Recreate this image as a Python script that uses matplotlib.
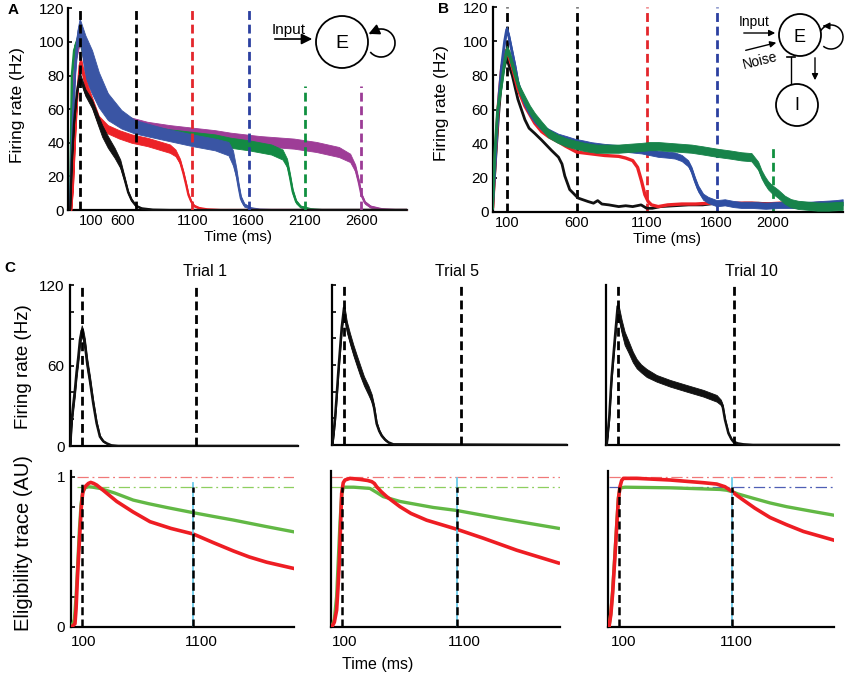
import numpy as np
import matplotlib
matplotlib.use("Agg")
import matplotlib.pyplot as plt
from matplotlib.patches import Circle, Arc

plt.rcParams['font.family'] = ['Liberation Sans', 'DejaVu Sans']

# ---------------- DATA ----------------
# Panel A (time ms, centre Hz, half band width Hz)
A_black_t = [15, 30, 50, 75, 100, 150, 210, 260, 300, 350, 410, 460, 500, 530, 560, 600, 650, 750, 900, 3000]
A_black_c = [0, 28, 52, 70, 80, 70, 63, 54, 47, 40.5, 34, 27.5, 18, 10.5, 6, 2.5, 1, 0.2, 0, 0]
A_black_w = [0.3, 1, 1, 1.5, 2, 2, 2.5, 3, 3.5, 3.5, 3, 2.5, 1.5, 1, 0.8, 0.5, 0.3, 0.3, 0.3, 0.3]

A_red_t = [25, 40, 60, 80, 100, 110, 150, 210, 270, 350, 450, 560, 700, 800, 900, 950, 990, 1020, 1045, 1065, 1090, 1115, 1160, 1230, 1350, 3000]
A_red_c = [0, 14, 45, 70, 86, 88, 75, 64, 53, 48, 45, 42.5, 40.5, 38.5, 36.5, 34, 29, 22, 15, 9, 5, 2.5, 1.2, 0.4, 0, 0]
A_red_w = [0.3, 1, 1.5, 2, 3, 3, 3, 3, 3, 2.5, 2.5, 2.5, 2.5, 2.5, 2.5, 2, 1.5, 1.2, 1, 0.8, 0.6, 0.5, 0.3, 0.3, 0.3, 0.3]

A_blue_t = [15, 25, 40, 60, 80, 100, 150, 210, 270, 350, 470, 590, 860, 1100, 1300, 1420, 1460, 1490, 1510, 1530, 1560, 1620, 1700, 1800, 3000]
A_blue_c = [0, 25, 55, 85, 102, 109, 91, 82, 71.5, 61.5, 54, 49.5, 45, 41.5, 39, 36.5, 31, 22, 14, 7, 3, 1, 0.2, 0, 0]
A_blue_w = [0.5, 3, 4, 5, 5, 5, 13, 13, 10.5, 8, 5.5, 4, 3.5, 3.5, 3.5, 4, 4.5, 3, 2, 1.5, 1, 0.5, 0.3, 0.3, 0.3]

A_green_t = [15, 22, 30, 50, 100, 150, 210, 300, 400, 500, 700, 900, 1100, 1300, 1440, 1600, 1800, 1900, 1940, 1965, 1990, 2020, 2060, 2150, 2250, 3000]
A_green_c = [0, 40, 80, 95, 104, 92, 82, 68, 58, 52, 47.5, 45, 43.5, 42, 40, 38.5, 36, 33, 28, 20, 11, 5, 2, 0.5, 0, 0]
A_green_w = [1, 2, 2, 3, 4, 8, 8, 6, 4, 3.5, 3, 3, 3, 3, 3, 3, 3, 3, 2.5, 2, 1.5, 1, 0.6, 0.3, 0.3, 0.3]

A_purple_t = [15, 30, 60, 100, 150, 210, 300, 400, 500, 700, 900, 1100, 1300, 1440, 1700, 2000, 2200, 2400, 2500, 2545, 2575, 2600, 2630, 2680, 2780, 2900, 3000]
A_purple_c = [0, 60, 90, 103, 92, 82, 69, 59, 53, 49.5, 47.5, 46, 44.5, 43, 41, 39.5, 37.5, 34.5, 31, 25, 17, 9, 4.5, 2, 0.5, 0, 0]
A_purple_w = [1, 2, 3, 4, 8, 8, 6, 4, 3, 3, 3, 3, 3, 3, 3, 3, 3, 3, 2.5, 2, 1.5, 1, 0.8, 0.6, 0.3, 0.3, 0.3]

A_xticks = [100, 600, 1100, 1600, 2100, 2600]
A_xtick_pos = [200, 485, 1100, 1600, 2100, 2600]
A_cues = [100, 600, 1100, 1600, 2100, 2600]
A_cue_top = [120, 120, 120, 120, 74, 74]

# Panel B
B_black_t = [0, 20, 40, 65, 100, 140, 180, 230, 260, 300, 350, 420, 470, 495, 515, 550, 610, 680, 720, 750, 780, 830, 900, 950, 1000, 1060, 1100, 1140, 1200, 1300, 1400, 1500, 1600, 1700, 1800, 1900, 2000, 2100, 2200, 2300, 2400, 2500]
B_black_c = [3, 30, 55, 80, 90, 80, 66, 54, 49, 46, 42, 36, 32, 28, 21, 13, 8, 6, 5, 6.5, 4.5, 4, 3, 3.5, 3, 4, 2, 2, 3, 3.5, 4, 4, 5, 4.5, 5, 5, 4.5, 4.5, 5, 4.5, 5, 5.5]

B_red_t = [0, 20, 40, 65, 100, 140, 180, 230, 300, 350, 400, 470, 520, 600, 700, 800, 900, 950, 1000, 1035, 1063, 1087, 1110, 1134, 1182, 1250, 1350, 1450, 1550, 1650, 1750, 1850, 1950, 2050, 2150, 2250, 2350, 2500]
B_red_c = [3, 35, 62, 85, 95, 85, 72, 62, 52, 47, 44, 41, 38.5, 35, 34, 33, 32.5, 31.5, 30, 26, 18, 10, 6, 4, 3, 4, 4.5, 4.5, 5, 4.5, 5, 5, 4.5, 5, 5, 4.5, 5, 5]

B_blue_t = [0, 15, 28, 45, 63, 85, 100, 115, 135, 160, 182, 205, 230, 265, 300, 340, 373, 420, 468, 530, 587, 650, 706, 800, 944, 1063, 1182, 1250, 1301, 1350, 1396, 1420, 1444, 1467, 1503, 1539, 1600, 1658, 1720, 1777, 1850, 1950, 2050, 2150, 2250, 2350, 2450, 2500]
B_blue_c = [5, 25, 46, 68, 85, 100, 107, 103, 95, 85, 75, 69, 63.5, 58, 54, 50.5, 48, 46, 44, 42.5, 41, 40, 39, 38, 37, 36, 34, 33.5, 33, 31.5, 28.4, 24.5, 18.6, 13.7, 8.8, 6.9, 5, 5.5, 4.5, 4, 4, 3.5, 4, 4, 4, 4.5, 5, 5.5]

B_green_t = [0, 16, 35, 63, 85, 100, 120, 158, 190, 230, 265, 301, 350, 397, 460, 516, 580, 658, 740, 825, 900, 980, 1063, 1120, 1182, 1260, 1340, 1420, 1500, 1610, 1700, 1777, 1848, 1896, 1920, 1943, 1967, 1991, 2039, 2086, 2130, 2182, 2250, 2320, 2400, 2500]
B_green_c = [4, 36, 60, 75, 88, 95, 92, 81, 72, 65.5, 60, 55.5, 50.5, 46, 43, 41, 39.5, 38, 37, 37, 37, 37.5, 38, 38.5, 38.5, 38, 37.5, 37, 36, 34.5, 33.5, 32.5, 32, 27, 22, 18.5, 15.5, 13.5, 10.5, 7, 5, 4, 3.5, 3, 3, 3.5]

B_xticks = [100, 600, 1100, 1600, 2000]
B_cues = [100, 600, 1100, 1600, 2000]
B_cue_top = [120, 120, 120, 120, 40]

# Panel C firing rates (time ms, centre Hz, half band width Hz)
C1_t = [0, 12, 25, 41, 55, 70, 85, 100, 115, 128, 149, 172, 201, 231, 260, 290, 319, 360, 420, 2000]
C1_c = [0, 19, 30, 42, 55, 66, 79, 86, 82, 76, 61, 49, 32, 17, 7, 3.5, 2, 0.5, 0, 0]
C1_w = [0.3, 3, 4, 4, 4, 4, 4, 4, 4, 4, 4, 3.5, 2.5, 1.5, 1, 0.5, 0.3, 0.3, 0.3, 0.3]

C5_t = [0, 10, 24, 38, 52, 66, 80, 100, 123, 150, 180, 210, 237, 270, 308, 336, 356, 378, 400, 421, 450, 478, 520, 2000]
C5_c = [0, 8, 21, 38, 56, 72, 88, 103, 89, 80, 71, 63, 56, 48, 41, 35, 28, 16, 10.5, 7, 4, 2, 0.5, 0]
C5_w = [0.3, 2, 3, 3, 3, 3, 3.5, 3.5, 4, 4, 4, 4, 4, 3.5, 3.5, 3, 2, 1.5, 1, 0.8, 0.6, 0.3, 0.3, 0.3]

C10_t = [0, 6, 28, 48, 77, 100, 115, 134, 160, 191, 230, 263, 300, 349, 434, 549, 692, 835, 949, 985, 1001, 1021, 1050, 1075, 1092, 1130, 1178, 1260, 2000]
C10_c = [0, 0, 21, 51, 81, 104, 97, 89, 80, 74, 66, 61, 57.5, 54, 50, 46.3, 42.5, 38.8, 35, 32, 28.8, 18.8, 8.8, 4.5, 2.5, 1.2, 0.5, 0, 0]
C10_w = [0.3, 0.3, 2, 3, 3.5, 4, 5, 5, 5, 4.5, 4, 3.5, 3, 3, 2.5, 2.5, 2.5, 2.5, 2.5, 2, 1.5, 1, 0.8, 0.6, 0.5, 0.3, 0.3, 0.3, 0.3]

# Panel C eligibility traces
E1r_t = [0, 11, 40, 50, 61, 73, 85, 97, 109, 124, 139, 160, 181, 208, 235, 300, 414, 560, 712, 900, 1099, 1280, 1458, 1600, 1756, 1995]
E1r_c = [0, 0, 0.02, 0.12, 0.31, 0.48, 0.64, 0.8, 0.89, 0.925, 0.94, 0.955, 0.962, 0.955, 0.944, 0.905, 0.835, 0.765, 0.70, 0.655, 0.618, 0.56, 0.505, 0.465, 0.43, 0.389]
E1g_t = [0, 11, 35, 50, 65, 80, 95, 110, 130, 159, 200, 264, 400, 562, 700, 860, 1099, 1280, 1458, 1600, 1756, 1995]
E1g_c = [0, 0, 0.05, 0.2, 0.42, 0.65, 0.82, 0.9, 0.925, 0.933, 0.93, 0.922, 0.89, 0.844, 0.82, 0.795, 0.76, 0.735, 0.711, 0.69, 0.667, 0.633]

E5r_t = [0, 9, 30, 50, 62, 74, 85, 94, 108, 123, 167, 254, 320, 357, 380, 400, 440, 488, 604, 700, 837, 1099, 1332, 1624, 1988]
E5r_c = [0, 0, 0.03, 0.11, 0.26, 0.44, 0.68, 0.889, 0.96, 0.978, 0.989, 0.982, 0.975, 0.967, 0.955, 0.933, 0.9, 0.867, 0.8, 0.755, 0.71, 0.65, 0.59, 0.51, 0.425]
E5g_t = [0, 9, 30, 50, 65, 80, 95, 108, 200, 341, 400, 458, 604, 894, 1099, 1478, 1988]
E5g_c = [0, 0, 0.05, 0.2, 0.45, 0.7, 0.88, 0.93, 0.93, 0.922, 0.895, 0.867, 0.835, 0.795, 0.775, 0.722, 0.656]

E10r_t = [0, 9, 25, 41, 60, 77, 92, 106, 121, 136, 254, 549, 844, 962, 1035, 1070, 1100, 1150, 1198, 1300, 1434, 1580, 1729, 1994]
E10r_c = [0, 0, 0.08, 0.222, 0.45, 0.667, 0.85, 0.933, 0.975, 0.989, 0.989, 0.978, 0.96, 0.951, 0.933, 0.915, 0.9, 0.87, 0.844, 0.79, 0.728, 0.68, 0.635, 0.578]
E10g_t = [0, 9, 25, 41, 60, 77, 92, 106, 150, 549, 991, 1050, 1100, 1150, 1286, 1434, 1581, 1800, 1994]
E10g_c = [0, 0, 0.09, 0.24, 0.47, 0.68, 0.86, 0.925, 0.93, 0.926, 0.915, 0.91, 0.9, 0.885, 0.856, 0.825, 0.8, 0.77, 0.744]

C_levels_hi = [0.995, 0.995, 0.995]
C_levels_lo = [0.933, 0.933, 0.933]
C_xticks = [100, 1100]
C_xtick_pos = [[118, 1175], [123, 1163], [139, 1139]]
C_titles = ["Trial 1", "Trial 5", "Trial 10"]

# ---------------- STYLE ----------------
BLACK = '#111111'
RED = '#ec2227'
BLUE = '#3a55a4'
GREEN = '#138a43'
PURPLE = '#9e3d97'
CRED = '#ee1d23'
CGREEN = '#62b845'
CYAN = '#6ccbea'

W, H = 850, 675
fig = plt.figure(figsize=(W / 100, H / 100), dpi=100)


def add_ax(l, t, r, b):
    ax = fig.add_axes([l / W, 1 - b / H, (r - l) / W, (b - t) / H])
    ax.patch.set_alpha(0)
    for s in ('top', 'right'):
        ax.spines[s].set_visible(False)
    for s in ('left', 'bottom'):
        ax.spines[s].set_linewidth(1.6)
    return ax


def band(ax, t, c, w, color, lw, z):
    t = np.asarray(t, float); c = np.asarray(c, float); w = np.asarray(w, float)
    ax.fill_between(t, c - w, c + w, color=color, lw=0.6, edgecolor=color, zorder=z)
    ax.plot(t, c, color=color, lw=lw, zorder=z)


DASH = (0, (3.2, 1.7))

# ---------------- PANEL A ----------------
axA = add_ax(68.4, 8.3, 406.5, 210)
axA.set_xlim(0, 3000); axA.set_ylim(0, 120)
band(axA, A_purple_t, A_purple_c, A_purple_w, PURPLE, 1.6, 2)
band(axA, A_green_t, A_green_c, A_green_w, GREEN, 1.6, 3)
band(axA, A_blue_t, A_blue_c, A_blue_w, BLUE, 1.6, 4)
band(axA, A_red_t, A_red_c, A_red_w, RED, 1.6, 5)
band(axA, A_black_t, A_black_c, A_black_w, BLACK, 1.6, 6)
cue_cols_A = ['k', 'k', '#e3262c', '#2b40a0', '#109040', '#9c3c96']
for x, top, col in zip(A_cues, A_cue_top, cue_cols_A):
    axA.plot([x, x], [0, top], color=col, lw=2.0, ls=DASH, zorder=8)
axA.set_yticks(range(0, 121, 20))
axA.set_xticks(A_xtick_pos)
axA.set_xticklabels([str(v) for v in A_xticks])
axA.tick_params(axis='y', direction='in', length=3, width=1.2, labelsize=11, pad=3)
axA.tick_params(axis='x', length=0, labelsize=10.5, pad=3)

# ---------------- PANEL B ----------------
axB = add_ax(492.7, 7.3, 842.7, 211.7)
axB.set_xlim(0, 2500); axB.set_ylim(0, 120)
cue_cols_B = ['k', 'k', '#e3262c', '#2b40a0', '#109040']
for x, top, col in zip(B_cues, B_cue_top, cue_cols_B):
    axB.plot([x, x], [0, top], color=col, lw=2.0, ls=DASH, zorder=1)
axB.plot(B_black_t, B_black_c, color=BLACK, lw=2.0, zorder=3)
axB.plot(B_red_t, B_red_c, color=RED, lw=2.4, zorder=4)
band(axB, B_blue_t, B_blue_c, np.full(len(B_blue_t), 1.8), '#2f4ea2', 2.0, 5)
band(axB, B_green_t, B_green_c, np.full(len(B_green_t), 2.4), '#17834a', 2.0, 6)
axB.set_yticks(range(0, 121, 20))
axB.set_xticks(B_xticks)
axB.tick_params(axis='y', direction='in', length=3, width=1.2, labelsize=11, pad=3)
axB.tick_params(axis='x', length=0, labelsize=10.5, pad=3)

# ---------------- PANEL C ----------------
top_rects = [(70.3, 285, 298.0, 446), (332.3, 285, 566.9, 445), (606.0, 285, 839.2, 445)]
bot_rects = [(70.5, 470.7, 293.9, 626.7), (330.9, 470.7, 559.7, 626.7), (608.0, 470.7, 834.0, 626.7)]
rates = [(C1_t, C1_c, C1_w), (C5_t, C5_c, C5_w), (C10_t, C10_c, C10_w)]
elig = [(E1r_t, E1r_c, E1g_t, E1g_c), (E5r_t, E5r_c, E5g_t, E5g_c), (E10r_t, E10r_c, E10g_t, E10g_c)]
lo_cols = ['#8dcf5f', '#8dcf5f', '#4f5fb5']
ref_start = [60, 0, 10]
dash100_top = [0.96, 0.933, 0.933]
dash1100_top = [0.956, 0.99, 0.99]

for i in range(3):
    ax = add_ax(*top_rects[i])
    ax.set_xlim(0, 2000); ax.set_ylim(0, 120)
    t, c, w = rates[i]
    band(ax, t, c, w, BLACK, 1.8, 3)
    for x in C_xticks:
        ax.plot([x, x], [0, 120], color='k', lw=2.0, ls=DASH, zorder=4)
    ax.set_xticks([])
    if i == 0:
        ax.set_yticks(range(0, 121, 20))
        ax.set_yticklabels(['0', '', '', '60', '', '', '120'])
        ax.tick_params(axis='y', direction='in', length=3, width=1.2, labelsize=11, pad=4)
    elif i == 1:
        ax.set_yticks(range(0, 121, 20))
        ax.set_yticklabels([])
        ax.tick_params(axis='y', direction='in', length=3, width=1.2)
    else:
        ax.set_yticks([])

    axb = add_ax(*bot_rects[i])
    axb.set_xlim(0, 2000); axb.set_ylim(0, 1.04)
    rt, rc, gt, gc = elig[i]
    axb.plot([ref_start[i], 2000], [C_levels_hi[i]] * 2, color='#f07878', lw=0.9,
             ls=(0, (9, 3, 1.5, 3)), zorder=2)
    axb.plot([ref_start[i], 2000], [C_levels_lo[i]] * 2, color=lo_cols[i], lw=0.9,
             ls=(0, (9, 3, 1.5, 3)), zorder=2)
    axb.plot(gt, gc, color=CGREEN, lw=2.4, zorder=3)
    axb.plot(rt, rc, color=CRED, lw=2.6, zorder=4)
    axb.plot([1100, 1100], [0, dash1100_top[i]], color=CYAN, lw=1.3, zorder=5)
    axb.plot([100, 100], [0, dash100_top[i]], color='k', lw=1.8, ls=DASH, zorder=6)
    axb.plot([1100, 1100], [0, C_levels_lo[i]], color='k', lw=1.8, ls=DASH, zorder=6)
    axb.set_xticks(C_xtick_pos[i])
    axb.set_xticklabels([str(v) for v in C_xticks])
    axb.tick_params(axis='x', length=0, labelsize=11, pad=6)
    if i == 0:
        axb.set_yticks([0, 0.2, 0.4, 0.6, 0.8, 1.0])
        axb.set_yticklabels(['0', '', '', '', '', '1'])
        axb.tick_params(axis='y', direction='in', length=3, width=1.2, labelsize=11, pad=4)
    else:
        axb.set_yticks([])

# ---------------- OVERLAY: labels & diagrams ----------------
ov = fig.add_axes([0, 0, 1, 1])
ov.set_xlim(0, W); ov.set_ylim(H, 0)
ov.axis('off'); ov.patch.set_alpha(0)
ov.set_zorder(20)

ov.text(8, 10, 'A', fontsize=11, fontweight='bold', ha='left', va='center')
ov.text(438, 9, 'B', fontsize=11, fontweight='bold', ha='left', va='center')
ov.text(4, 268, 'C', fontsize=11, fontweight='bold', ha='left', va='center')

ov.text(18, 105, 'Firing rate (Hz)', rotation=90, fontsize=12.5, ha='center', va='center')
ov.text(442, 103, 'Firing rate (Hz)', rotation=90, fontsize=12.5, ha='center', va='center')
ov.text(238, 237, 'Time (ms)', fontsize=11, ha='center', va='center')
ov.text(667, 239, 'Time (ms)', fontsize=11, ha='center', va='center')
ov.text(24, 367, 'Firing rate (Hz)', rotation=90, fontsize=13.5, ha='center', va='center')
ov.text(24, 543, 'Eligibility trace (AU)', rotation=90, fontsize=14.5, ha='center', va='center')
ov.text(378, 664, 'Time (ms)', fontsize=11.5, ha='center', va='center')
for x, s in zip([205.5, 456.7, 751.7], C_titles):
    ov.text(x, 272, s, fontsize=11.5, ha='center', va='center')

# Diagram A
ov.add_patch(Circle((342, 42), 26, fill=False, lw=1.3, color='k'))
ov.text(342, 44, 'E', fontsize=14, ha='center', va='center')
ov.annotate('', xy=(315, 39), xytext=(272, 39),
            arrowprops=dict(arrowstyle='-|>', lw=1.2, color='k', mutation_scale=16))
ov.text(289, 30, 'Input', fontsize=11, ha='center', va='center')
ov.add_patch(Arc((381, 43), 28, 28, theta1=-140, theta2=140, lw=1.2, color='k'))
ov.annotate('', xy=(366, 35), xytext=(375, 31),
            arrowprops=dict(arrowstyle='-|>', lw=1.2, color='k', mutation_scale=16))

# Diagram B
ov.add_patch(Circle((800, 35), 21, fill=False, lw=1.3, color='k'))
ov.text(800, 37, 'E', fontsize=13, ha='center', va='center')
ov.add_patch(Circle((797, 105), 21, fill=False, lw=1.3, color='k'))
ov.text(797, 106, 'I', fontsize=13, ha='center', va='center')
ov.add_patch(Arc((831, 37), 24, 24, theta1=-150, theta2=130, lw=1.1, color='k'))
ov.annotate('', xy=(820, 26), xytext=(828, 26),
            arrowprops=dict(arrowstyle='-|>', lw=1.0, color='k', mutation_scale=10))
ov.annotate('', xy=(778, 33), xytext=(741, 33),
            arrowprops=dict(arrowstyle='-|>', lw=1.0, color='k', mutation_scale=9))
ov.text(754, 22, 'Input', fontsize=10, ha='center', va='center')
ov.annotate('', xy=(779, 42), xytext=(743, 51),
            arrowprops=dict(arrowstyle='-|>', lw=1.0, color='k', mutation_scale=9))
ov.text(760, 61, 'Noise', fontsize=10, ha='center', va='center', rotation=14)
ov.annotate('', xy=(815, 83), xytext=(815, 55),
            arrowprops=dict(arrowstyle='-|>', lw=1.0, color='k', mutation_scale=9))
ov.plot([791, 791], [84, 57], color='k', lw=1.0)
ov.plot([787, 795], [57, 57], color='k', lw=1.2)

fig.savefig('out.png', dpi=100)
